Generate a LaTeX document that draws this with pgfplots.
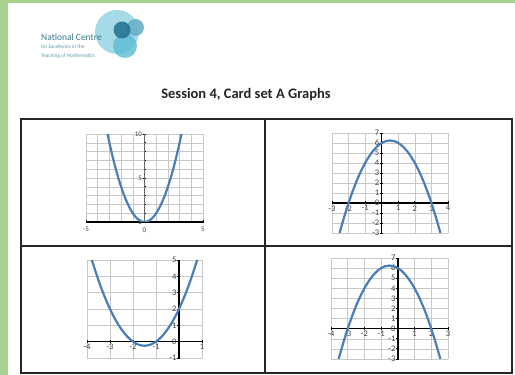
\documentclass[border=0pt]{standalone}
\usepackage{fontspec}
\setmainfont{Carlito}
\usepackage{pgfplots}
\pgfplotsset{compat=1.18}

\definecolor{pagegreen}{HTML}{A9D18E}
\definecolor{curveblue}{HTML}{4A7EBB}
\definecolor{gridgrey}{HTML}{C8C8C8}
\definecolor{labgrey}{HTML}{404040}
\definecolor{logolight}{HTML}{A6DAE6}
\definecolor{logodark}{HTML}{1F6E8E}
\definecolor{logomid}{HTML}{6AAFCB}
\definecolor{logoteal}{HTML}{5CBCD4}
\definecolor{logotext}{HTML}{3B7C90}

\pgfplotsset{
  cardgraph/.style={
    scale only axis,
    anchor=south west,
    axis lines=middle,
    axis line style={-, line width=1.4pt, black},
    grid=both,
    grid style={gridgrey, line width=0.5pt},
    major grid style={gridgrey, line width=0.5pt},
    minor grid style={gridgrey, line width=0.5pt},
    tick style={black, line width=0.8pt},
    major tick length=3pt,
    minor tick length=2pt,
    ticklabel style={font=\fontsize{8.5}{9}\selectfont, text=labgrey, inner sep=0.8pt},
    /pgf/number format/assume math mode=true,
    hide obscured x ticks=false,
    hide obscured y ticks=false,
  },
  curve/.style={smooth, line width=2.2pt, color=curveblue},
}

\begin{document}
\begin{tikzpicture}[x=1pt,y=1pt]
\useasboundingbox (0,0) rectangle (515,375);
\fill[pagegreen] (0,0) rectangle (515,375);
\fill[white] (8,0) rectangle (515,372);

% logo
\fill[logolight] (117,343) circle (22);
\fill[logoteal, opacity=0.8] (125,329) circle (12);
\fill[logomid, opacity=0.9] (135.5,347.5) circle (8.5);
\fill[logodark, opacity=0.85] (122,345) circle (8.5);
\node[anchor=west, inner sep=0, text=logotext, font=\fontsize{9.5}{10}\selectfont] at (41,338) {National Centre};
\node[anchor=west, inner sep=0, text=logotext!80, font=\fontsize{5.3}{6}\selectfont] at (41,328) {for Excellence in the};
\node[anchor=west, inner sep=0, text=logotext!80, font=\fontsize{5.3}{6}\selectfont] at (41,319) {Teaching of Mathematics};

% title
\node[font=\fontsize{14.5}{16}\selectfont\bfseries, text=black!85] at (246,280) {Session 4, Card set A Graphs};

% card table
\draw[line width=1.8pt, black!85] (21,2) rectangle (512,256);
\draw[line width=1.8pt, black!85] (21,129) -- (512,129);
\draw[line width=1.8pt, black!85] (265,2) -- (265,256);

% graph 1: y = x^2
\begin{axis}[cardgraph, at={(86pt,153pt)}, width=117pt, height=88pt,
  xmin=-5, xmax=5, ymin=0, ymax=10,
  xtick={-5,0,5}, ytick={0,5,10}, minor x tick num=4, minor y tick num=4,
  y axis line style={line width=0.8pt, black!60},
  ticklabel style={font=\fontsize{7}{8}\selectfont},
  xticklabel style={yshift=-3pt}]
\addplot[curve] coordinates {
(-3.16,10) (-3,9) (-2.75,7.5625) (-2.5,6.25) (-2.25,5.0625) (-2,4) (-1.75,3.0625)
(-1.5,2.25) (-1.25,1.5625) (-1,1) (-0.75,0.5625) (-0.5,0.25) (-0.25,0.0625) (0,0)
(0.25,0.0625) (0.5,0.25) (0.75,0.5625) (1,1) (1.25,1.5625) (1.5,2.25) (1.75,3.0625)
(2,4) (2.25,5.0625) (2.5,6.25) (2.75,7.5625) (3,9) (3.16,10)};
\end{axis}

% graph 2: roots -2 and 3
\begin{axis}[cardgraph, at={(332pt,142pt)}, width=116pt, height=100pt,
  xmin=-3, xmax=4, ymin=-3, ymax=7,
  xtick={-3,-2,-1,1,2,3,4}, ytick={-3,-2,-1,0,1,2,3,4,5,6,7}]
\addplot[curve] coordinates {
(-2.54,-3) (-2.5,-2.75) (-2.25,-1.3125) (-2,0) (-1.75,1.1875) (-1.5,2.25) (-1.25,3.1875)
(-1,4) (-0.75,4.6875) (-0.5,5.25) (-0.25,5.6875) (0,6) (0.25,6.1875) (0.5,6.25)
(0.75,6.1875) (1,6) (1.25,5.6875) (1.5,5.25) (1.75,4.6875) (2,4) (2.25,3.1875)
(2.5,2.25) (2.75,1.1875) (3,0) (3.25,-1.3125) (3.5,-2.75) (3.54,-3)};
\end{axis}

% graph 3: roots -2 and -1
\begin{axis}[cardgraph, at={(87pt,17pt)}, width=115pt, height=98pt,
  xmin=-4, xmax=1, ymin=-1, ymax=5,
  xtick={-4,-3,-2,-1,1}, ytick={-1,0,1,2,3,4,5}]
\addplot[curve] coordinates {
(-3.79,5) (-3.5,3.75) (-3.25,2.8125) (-3,2) (-2.75,1.3125) (-2.5,0.75) (-2.25,0.3125)
(-2,0) (-1.75,-0.1875) (-1.5,-0.25) (-1.25,-0.1875) (-1,0) (-0.75,0.3125) (-0.5,0.75)
(-0.25,1.3125) (0,2) (0.25,2.8125) (0.5,3.75) (0.79,5)};
\end{axis}

% graph 4: roots -3 and 2
\begin{axis}[cardgraph, at={(331pt,16pt)}, width=117pt, height=101pt,
  xmin=-4, xmax=3, ymin=-3, ymax=7,
  xtick={-4,-3,-2,-1,1,2,3}, ytick={-3,-2,-1,0,1,2,3,4,5,6,7}]
\addplot[curve] coordinates {
(-3.54,-3) (-3.5,-2.75) (-3.25,-1.3125) (-3,0) (-2.75,1.1875) (-2.5,2.25) (-2.25,3.1875)
(-2,4) (-1.75,4.6875) (-1.5,5.25) (-1.25,5.6875) (-1,6) (-0.75,6.1875) (-0.5,6.25)
(-0.25,6.1875) (0,6) (0.25,5.6875) (0.5,5.25) (0.75,4.6875) (1,4) (1.25,3.1875)
(1.5,2.25) (1.75,1.1875) (2,0) (2.25,-1.3125) (2.5,-2.75) (2.54,-3)};
\end{axis}
\end{tikzpicture}
\end{document}
